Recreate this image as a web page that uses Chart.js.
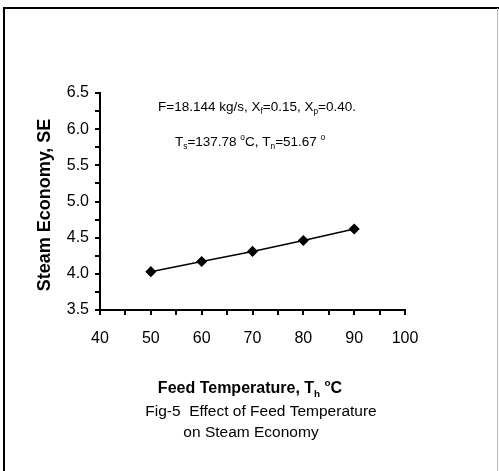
<!DOCTYPE html>
<html>
<head>
<meta charset="utf-8">
<script src="https://cdn.jsdelivr.net/npm/chart.js@4"></script>
<style>
  html, body { margin: 0; padding: 0; background: #fff; }
  #wrap { width: 499px; height: 471px; position: relative; }
</style>
</head>
<body>
<div id="wrap"><canvas id="c" width="499" height="471"></canvas></div>
<script>
// Feed temperature (°C) and resulting steam economy
const feedTemp = [50, 60, 70, 80, 90];
const steamEconomy = [4.03, 4.17, 4.31, 4.46, 4.62];

const xLabels = [40, 50, 60, 70, 80, 90, 100];
const yLabels = ['3.5', '4.0', '4.5', '5.0', '5.5', '6.0', '6.5'];

const FONT = '"Liberation Sans", Arial, sans-serif';

// draws text pieces in sequence; each piece may be sub/superscript
function drawRich(ctx, parts, x, y, size, bold, align) {
  const weight = bold ? 'bold ' : '';
  const widths = parts.map(p => {
    const s = p.sub || p.sup ? size * 0.62 : size;
    ctx.font = weight + s + 'px ' + FONT;
    return ctx.measureText(p.t).width;
  });
  const total = widths.reduce((a, b) => a + b, 0);
  let cx = align === 'center' ? x - total / 2 : x;
  ctx.textAlign = 'left';
  ctx.textBaseline = 'alphabetic';
  parts.forEach((p, i) => {
    const s = p.sub || p.sup ? size * 0.62 : size;
    ctx.font = weight + s + 'px ' + FONT;
    let dy = 0;
    if (p.sub) dy = size * 0.25;
    if (p.sup) dy = -size * 0.45;
    ctx.fillText(p.t, cx, y + dy);
    cx += widths[i];
  });
}

const textPlugin = {
  id: 'figureText',
  afterDraw(chart) {
    const ctx = chart.ctx;
    ctx.save();
    ctx.fillStyle = '#000';

    // figure frame
    ctx.strokeStyle = '#000';
    ctx.lineWidth = 2;
    ctx.beginPath();
    ctx.moveTo(4, 471);
    ctx.lineTo(4, 8);
    ctx.lineTo(499, 8);
    ctx.stroke();
    ctx.strokeStyle = '#bbb';
    ctx.lineWidth = 1;
    ctx.beginPath();
    ctx.moveTo(497.5, 8);
    ctx.lineTo(497.5, 471);
    ctx.stroke();

    // process conditions
    drawRich(ctx, [
      {t: 'F=18.144 kg/s, X'}, {t: 'f', sub: true}, {t: '=0.15, X'},
      {t: 'p', sub: true}, {t: '=0.40.'}
    ], 158, 111, 13.5, false, 'left');
    drawRich(ctx, [
      {t: 'T'}, {t: 's', sub: true}, {t: '=137.78 '}, {t: 'o', sup: true},
      {t: 'C, T'}, {t: 'n', sub: true}, {t: '=51.67 '}, {t: 'o', sup: true}
    ], 175, 146, 13.5, false, 'left');

    // y axis title
    ctx.save();
    ctx.translate(45, 205);
    ctx.rotate(-Math.PI / 2);
    ctx.font = 'bold 18px ' + FONT;
    ctx.textAlign = 'center';
    ctx.textBaseline = 'middle';
    ctx.fillText('Steam Economy, SE', 0, 0);
    ctx.restore();

    // x axis title and caption
    drawRich(ctx, [
      {t: 'Feed Temperature, T'}, {t: 'h', sub: true}, {t: ' '},
      {t: 'o', sup: true}, {t: 'C'}
    ], 250, 393, 16, true, 'center');
    ctx.font = '15.5px ' + FONT;
    ctx.textAlign = 'center';
    ctx.fillText('Fig-5  Effect of Feed Temperature', 261, 416);
    ctx.fillText('on Steam Economy', 251, 437);
    ctx.restore();
  }
};

new Chart(document.getElementById('c'), {
  type: 'line',
  data: {
    datasets: [{
      data: feedTemp.map((x, i) => ({x, y: steamEconomy[i]})),
      borderColor: '#000',
      backgroundColor: '#000',
      borderWidth: 1.5,
      pointStyle: 'rectRot',
      pointRadius: 4.5,
      pointBackgroundColor: '#000',
      pointBorderColor: '#000',
      tension: 0
    }]
  },
  options: {
    responsive: false,
    animation: false,
    events: [],
    layout: { padding: { top: 93, right: 94, left: 0, bottom: 0 } },
    plugins: { legend: { display: false }, tooltip: { enabled: false } },
    scales: {
      x: {
        type: 'linear',
        min: 40, max: 100,
        afterFit(scale) { scale.height = 161; },
        ticks: {
          stepSize: 5,
          autoSkip: false,
          maxRotation: 0,
          padding: 14,
          color: '#000',
          font: { family: FONT, size: 16 },
          callback: v => xLabels.includes(v) ? String(v) : ''
        },
        grid: { drawOnChartArea: false, drawTicks: true, tickLength: 5, color: '#000', lineWidth: 2 },
        border: { display: true, color: '#000', width: 2 }
      },
      y: {
        type: 'linear',
        min: 3.5, max: 6.5,
        afterFit(scale) { scale.width = 100; },
        ticks: {
          stepSize: 0.25,
          autoSkip: false,
          padding: 6,
          color: '#000',
          font: { family: FONT, size: 16 },
          callback: v => {
            const s = v.toFixed(1);
            return (Math.abs(v * 2 - Math.round(v * 2)) < 1e-6 && yLabels.includes(s)) ? s : '';
          }
        },
        grid: { drawOnChartArea: false, drawTicks: true, tickLength: 5, color: '#000', lineWidth: 2 },
        border: { display: true, color: '#000', width: 2 }
      }
    }
  },
  plugins: [textPlugin]
});
</script>
</body>
</html>
